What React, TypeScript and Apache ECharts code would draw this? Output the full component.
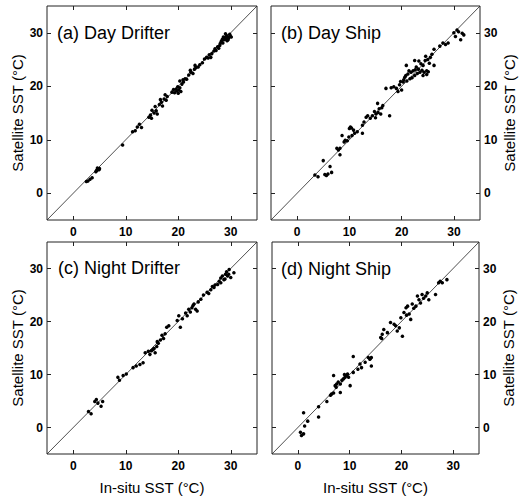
import React, { useEffect, useRef } from 'react';
import * as echarts from 'echarts';

const tickValues = [0, 10, 20, 30];
const axisMin = -5;
const axisMax = 35;
const panelTitles = ['(a) Day Drifter', '(b) Day Ship', '(c) Night Drifter', '(d) Night Ship'];
const xTitle = 'In-situ SST (°C)';
const yTitle = 'Satellite SST (°C)';
const oneToOne = [[-5, -5], [35, 35]];

const dayDrifter = [
  [2.5, 2.2], [2.8, 2.3], [3.2, 2.6], [3.6, 2.9], [4.3, 4.0], [4.5, 4.3], [4.7, 4.5], [4.9, 4.4], [4.6, 4.7], [4.4, 4.2], [5.0, 4.6],
  [9.4, 9.0],
  [11.3, 11.5], [11.8, 11.7], [12.2, 12.4], [12.6, 12.9], [13.0, 12.3],
  [14.4, 14.2], [14.7, 14.6], [15.0, 15.5], [14.9, 14.0], [15.4, 15.0], [15.8, 15.4], [16.0, 14.8], [15.6, 16.2], [16.4, 16.6],
  [16.8, 17.0], [17.0, 16.3], [17.3, 17.6], [17.7, 17.4], [17.9, 18.1], [17.5, 18.4], [16.6, 17.5],
  [18.8, 18.9], [19.1, 19.4], [19.3, 18.8], [19.6, 19.5], [19.9, 19.9], [20.1, 19.3], [20.3, 19.7], [20.5, 19.0], [20.0, 18.7],
  [19.7, 19.1], [20.7, 20.4], [20.3, 21.0], [20.9, 21.2], [21.3, 21.4], [21.0, 20.8], [21.6, 21.3],
  [22.0, 22.1], [22.4, 22.6], [22.3, 23.0], [22.8, 22.4], [23.1, 23.2], [23.4, 23.5], [23.2, 23.9], [23.8, 23.6], [24.1, 24.0], [24.6, 24.4],
  [25.0, 25.1], [25.4, 25.4], [25.7, 25.3], [25.9, 25.9], [26.2, 25.4], [26.4, 26.1], [26.8, 26.6], [27.0, 27.0], [27.2, 26.7],
  [27.5, 27.4], [27.7, 27.1], [28.0, 28.0], [28.2, 28.4], [28.5, 28.1], [28.7, 28.7], [28.9, 29.1], [29.1, 28.8], [29.2, 29.5],
  [29.4, 29.2], [29.0, 29.8], [29.6, 29.0], [29.9, 29.4], [29.5, 28.7], [28.6, 29.2], [29.3, 28.5], [30.1, 29.2], [29.8, 29.7],
  [28.4, 28.8], [27.9, 27.6]
];

const dayShip = [
  [3.4, 3.4], [4.0, 3.1], [5.0, 6.1], [5.3, 3.5], [5.9, 3.6], [6.6, 3.9], [6.3, 5.0], [5.6, 3.3],
  [7.6, 8.4], [8.2, 8.4], [8.2, 7.2], [8.6, 10.8], [9.2, 9.9], [9.9, 10.5], [10.2, 12.4], [10.8, 11.8], [11.5, 11.5],
  [10.5, 10.8], [12.5, 11.2], [9.6, 9.8], [10.0, 12.1], [10.4, 12.2], [9.0, 9.6], [11.0, 11.2], [7.9, 8.1],
  [12.8, 13.3], [13.5, 14.5], [14.4, 14.5], [15.1, 14.8], [15.7, 15.8], [16.4, 16.4], [16.0, 14.8], [17.7, 14.5], [15.4, 16.8],
  [12.5, 12.7], [13.2, 14.2], [14.0, 14.0], [14.8, 15.3], [15.5, 15.1], [16.2, 16.0], [15.0, 14.1],
  [17.0, 19.6], [18.0, 19.7], [19.0, 19.6], [19.6, 20.3], [20.0, 19.3], [20.6, 21.7], [21.2, 22.3], [21.6, 21.4], [22.2, 22.9],
  [22.5, 22.0], [23.2, 23.2], [23.5, 22.6], [24.1, 23.9], [24.5, 24.8], [24.8, 22.9], [25.5, 25.4], [25.8, 26.0], [26.2, 26.9],
  [24.1, 22.0], [24.8, 22.2], [22.5, 24.8], [20.9, 23.9], [26.2, 23.9], [18.5, 19.9], [19.3, 19.0], [20.3, 20.8], [20.8, 22.0],
  [21.0, 21.0], [21.8, 22.6], [22.0, 21.6], [22.8, 23.6], [23.0, 22.4], [23.7, 24.2], [23.9, 23.0], [24.3, 22.6], [25.0, 25.0],
  [25.3, 24.3], [21.4, 22.9], [22.6, 23.1], [23.3, 24.7], [19.8, 20.9], [20.4, 21.2], [25.1, 22.7], [24.6, 25.6],
  [27.3, 27.5], [27.9, 28.1], [28.9, 28.1], [30.3, 29.3], [30.9, 30.2], [31.6, 29.9], [31.9, 29.6], [30.6, 30.5], [31.3, 28.7],
  [28.4, 27.8], [30.0, 30.0]
];

const nightDrifter = [
  [2.9, 3.0], [3.4, 2.6], [4.1, 4.9], [4.7, 4.6], [5.3, 4.0], [5.6, 4.9], [4.4, 5.3],
  [8.5, 9.5], [8.8, 8.9], [9.5, 9.8], [10.1, 10.1], [11.4, 11.3], [12.0, 11.6], [12.7, 11.9], [13.3, 12.2],
  [13.7, 14.1], [14.3, 14.4], [14.6, 13.8], [15.2, 14.7], [15.6, 14.1], [15.9, 15.3], [16.2, 15.9], [16.6, 16.5], [17.2, 16.8],
  [16.9, 17.4], [17.5, 17.7], [17.8, 18.9], [18.2, 19.2], [14.9, 14.5], [15.4, 14.9], [16.0, 16.2],
  [19.8, 20.2], [20.1, 21.1], [20.4, 18.9], [21.7, 21.1], [22.0, 22.3], [22.6, 22.6], [23.0, 23.3], [23.3, 22.3], [23.6, 22.0],
  [24.3, 24.2], [25.5, 25.5], [26.8, 26.4], [27.5, 27.0], [28.1, 27.3], [28.7, 27.9], [29.4, 28.6], [30.0, 28.3], [29.7, 29.8],
  [30.6, 29.2], [29.0, 28.9], [28.1, 28.2], [21.4, 21.6], [22.3, 21.8], [22.8, 23.0], [23.8, 23.7], [24.8, 25.0], [25.8, 25.3],
  [26.2, 26.0], [27.0, 26.9], [27.8, 27.6], [28.4, 28.6], [29.2, 29.4], [28.9, 28.0], [29.6, 28.9], [26.5, 26.6], [20.8, 20.5]
];

const nightShip = [
  [0.5, -0.9], [0.7, -1.5], [1.1, -1.2], [1.3, 0.3], [1.1, 2.8], [1.9, 1.2], [4.0, 3.9], [4.0, 2.0], [5.6, 4.9], [6.3, 6.1], [6.9, 6.5],
  [6.9, 9.8], [7.2, 7.9], [7.5, 8.2], [8.2, 8.2], [8.2, 6.6], [8.5, 8.9], [9.1, 9.5], [9.4, 9.8], [9.8, 9.5], [10.1, 7.9],
  [10.7, 10.4], [11.6, 11.0], [10.7, 13.4], [12.3, 11.3], [13.0, 12.3], [13.6, 13.2], [14.2, 13.2], [14.2, 11.6], [13.9, 12.9],
  [7.8, 8.6], [8.8, 9.2], [9.0, 10.0], [7.4, 7.6], [6.5, 6.3], [9.6, 10.1], [12.0, 12.0], [14.0, 13.0],
  [16.0, 17.0], [16.3, 17.6], [16.6, 18.5], [17.3, 17.9], [17.9, 19.8], [18.6, 19.5], [19.2, 18.2], [19.6, 18.8], [20.2, 17.2],
  [19.9, 20.7], [20.5, 21.7], [21.2, 22.9], [21.5, 21.4], [21.8, 20.4], [22.1, 23.3], [22.8, 22.9], [23.4, 24.1], [24.0, 25.1],
  [24.7, 24.8], [25.0, 25.4], [25.3, 24.1], [26.6, 25.1], [27.5, 27.6], [27.9, 27.3], [28.8, 27.9], [27.2, 27.3], [23.1, 24.8],
  [23.7, 23.5], [20.9, 22.6], [22.4, 22.5], [24.3, 24.4], [21.0, 21.2], [18.9, 19.2], [16.2, 16.8]
];

const datasets = [dayDrifter, dayShip, nightDrifter, nightShip];

const FONT = 'Liberation Sans, Arial, Helvetica, sans-serif';
const INK = '#000';

const gridBoxes = [
  { left: 47, top: 6, width: 210, height: 214 },
  { left: 271, top: 6, width: 209, height: 214 },
  { left: 47, top: 242, width: 210, height: 215 },
  { left: 272, top: 242, width: 207, height: 215 }
];
const titlePos = [
  { left: 57, top: 24 },
  { left: 281, top: 24 },
  { left: 58, top: 259 },
  { left: 281, top: 260 }
];

function buildOption() {
  const grid: any[] = [];
  const xAxis: any[] = [];
  const yAxis: any[] = [];
  const series: any[] = [];
  const title: any[] = [];
  gridBoxes.forEach((g, i) => {
    grid.push({ ...g, show: true, borderColor: '#222', borderWidth: 1, backgroundColor: 'transparent' });
    const bottomRow = i >= 2;
    const rightCol = i % 2 === 1;
    const base = {
      type: 'value',
      gridIndex: i,
      min: axisMin,
      max: axisMax,
      splitLine: { show: false },
      axisLine: { show: false, onZero: false },
      axisTick: { show: true, inside: true, length: 4, customValues: tickValues, lineStyle: { color: '#222' } }
    };
    xAxis.push({
      ...base,
      position: 'bottom',
      axisLabel: { show: true, customValues: tickValues, margin: 6, fontSize: 12, fontWeight: 'bold', color: INK, fontFamily: FONT },
      name: bottomRow ? xTitle : '',
      nameLocation: 'middle',
      nameGap: 26,
      nameTextStyle: { fontSize: 15, color: INK, fontFamily: FONT }
    });
    xAxis.push({ ...base, position: 'top', axisLabel: { show: false, customValues: tickValues } });
    yAxis.push({
      ...base,
      position: rightCol ? 'right' : 'left',
      axisLabel: { show: true, customValues: tickValues, margin: 4, fontSize: 12, fontWeight: 'bold', color: INK, fontFamily: FONT },
      name: yTitle,
      nameLocation: 'middle',
      nameGap: 22,
      nameRotate: 90,
      nameTextStyle: { fontSize: 15, color: INK, fontFamily: FONT }
    });
    yAxis.push({ ...base, position: rightCol ? 'left' : 'right', axisLabel: { show: false, customValues: tickValues } });
    series.push({
      type: 'line',
      xAxisIndex: 2 * i,
      yAxisIndex: 2 * i,
      data: oneToOne,
      symbol: 'none',
      lineStyle: { color: '#222', width: 0.8 },
      z: 2
    });
    series.push({
      type: 'scatter',
      xAxisIndex: 2 * i,
      yAxisIndex: 2 * i,
      data: datasets[i],
      symbolSize: 3.5,
      itemStyle: { color: '#000', opacity: 1 },
      z: 3
    });
    title.push({
      text: panelTitles[i],
      left: titlePos[i].left,
      top: titlePos[i].top,
      padding: 0,
      textStyle: { fontSize: 18, fontWeight: 'normal', color: INK, fontFamily: FONT }
    });
  });
  return { animation: false, backgroundColor: '#fff', title, grid, xAxis, yAxis, series };
}

export default function App() {
  const ref = useRef<HTMLDivElement>(null);
  useEffect(() => {
    if (!ref.current) return;
    const chart = echarts.init(ref.current, undefined, { renderer: 'svg' });
    chart.setOption(buildOption());
    return () => chart.dispose();
  }, []);
  return <div ref={ref} style={{ position: 'fixed', left: 0, top: 0, width: 531, height: 496, background: '#fff' }} />;
}
